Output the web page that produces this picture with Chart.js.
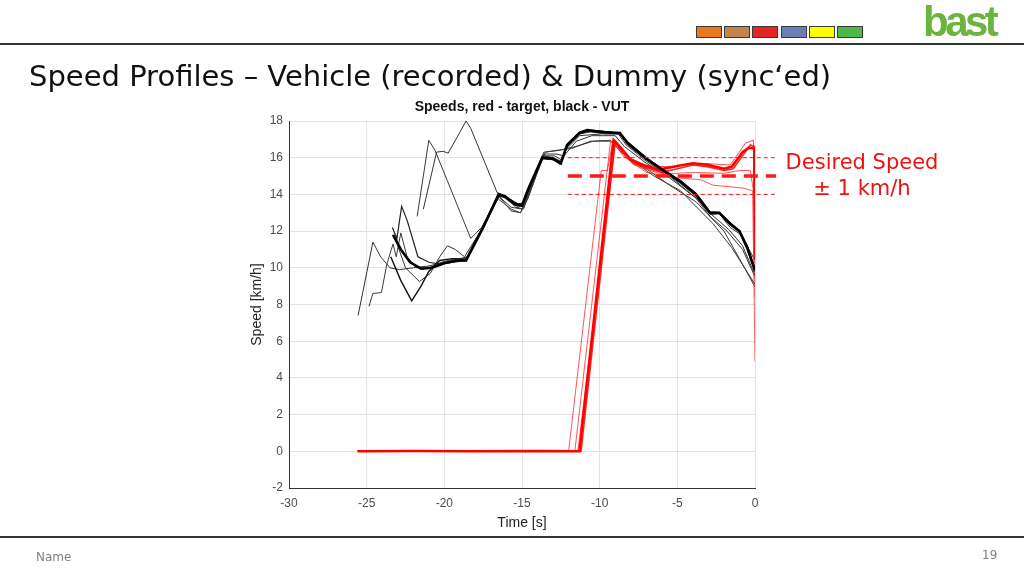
<!DOCTYPE html>
<html>
<head>
<meta charset="utf-8">
<script src="https://cdn.jsdelivr.net/npm/chart.js@4.4.1/dist/chart.umd.min.js"></script>
<style>
  body { margin: 0; background: #fff; }
  #slide { position: relative; width: 1024px; height: 576px; overflow: hidden; font-family: "DejaVu Sans", Verdana, sans-serif; }
  #myChart { position: absolute; left: 0; top: 0; }
  .abs { position: absolute; white-space: nowrap; }
  .rule { position: absolute; left: 0; width: 1024px; height: 2px; background: #333; }
  .box { position: absolute; top: 26px; width: 24px; height: 10px; border: 1px solid #3a3a3a; }
</style>
</head>
<body>
<div id="slide">
  <canvas id="myChart" width="1024" height="576"></canvas>
  <div class="rule" style="top:43px"></div>
  <div class="rule" style="top:536px"></div>
  <div class="box" style="left:696px;background:#e8771e"></div>
  <div class="box" style="left:724px;background:#c8834a"></div>
  <div class="box" style="left:752px;background:#e52525"></div>
  <div class="box" style="left:781px;background:#6a7fb5"></div>
  <div class="box" style="left:809px;background:#ffff00"></div>
  <div class="box" style="left:837px;background:#4cb847"></div>
  <div class="abs" style="left:923px;top:-2px;font:bold 42px 'Liberation Sans',Arial,sans-serif;letter-spacing:-3.5px;color:#6cb33f">bast</div>
  <div class="abs" style="left:29px;top:59px;font-size:29px;color:#111">Speed Profiles – Vehicle (recorded) &amp; Dummy (sync‘ed)</div>
  <div class="abs" style="left:782px;top:149px;width:160px;text-align:center;font-size:21px;line-height:26px;color:#ee1111">Desired Speed<br>± 1 km/h</div>
  <div class="abs" style="left:36px;top:550px;font-size:12px;color:#808080">Name</div>
  <div class="abs" style="left:982px;top:548px;font-size:12px;color:#808080">19</div>
</div>
<script>
// VUT speed traces, [time s, speed km/h]
var vut1 = [[-23.3,11.8],[-22.8,11.0],[-22.2,10.3],[-21.5,9.95],[-20.8,10.0],[-20.0,10.25],[-19.2,10.4],[-18.6,10.4],[-17.5,12.2],[-16.5,14.0],[-16.1,13.9],[-15.5,13.5],[-15.0,13.4],[-14.6,14.3],[-13.7,16.0],[-13.0,15.95],[-12.5,15.7],[-12.1,16.7],[-11.3,17.35],[-10.8,17.5],[-9.8,17.4],[-8.7,17.35],[-8.2,16.8],[-7.0,15.95],[-5.9,15.3],[-4.8,14.7],[-3.8,14.0],[-2.9,13.0],[-2.3,13.0],[-1.6,12.4],[-1.0,12.0],[-0.5,11.1],[0,9.85]];
var vut2 = [[-21.35,13.2],[-20.5,16.3],[-20.1,16.35],[-19.75,16.25],[-18.6,18.0],[-18.3,17.6],[-16.6,14.1],[-16.0,13.8],[-15.4,13.3],[-14.9,13.2],[-14.5,14.2],[-13.6,16.1],[-13.0,16.0],[-12.5,15.8],[-12.1,16.6],[-11.3,17.3],[-10.6,17.4],[-9.6,17.3],[-8.7,17.3],[-8.2,16.7],[-7.0,15.9],[-5.9,15.25],[-4.8,14.6],[-3.8,13.9],[-2.9,12.9],[-2.3,12.95],[-1.6,12.2],[-0.9,11.8],[0,10.4]];
var vut3 = [[-21.75,12.8],[-21.0,16.95],[-20.6,16.4],[-18.3,11.6],[-17.6,12.2],[-16.6,13.8],[-15.7,13.2],[-15.1,13.0],[-14.6,13.9],[-13.5,16.3],[-12.8,16.4],[-11.8,16.5],[-10.6,16.9],[-9.3,16.9],[-8.7,16.6],[-8.0,15.9],[-6.5,15.0],[-4.8,14.2],[-2.7,12.4],[-1.5,11.1],[0,9.1]];
var vut4 = [[-25.55,7.4],[-24.6,11.4],[-24.1,10.6],[-23.5,10.0],[-22.9,9.9],[-22.0,10.0],[-21.0,10.1],[-20.0,10.3],[-19.0,10.5],[-18.5,10.6],[-17.4,12.4],[-16.4,14.0],[-15.8,13.6],[-15.2,13.3],[-14.7,13.9],[-13.7,16.1],[-12.9,16.1],[-12.5,15.9],[-12.1,16.5],[-11.3,17.2],[-9.8,17.3],[-8.8,17.3],[-8.3,16.7],[-7.0,15.8],[-5.5,15.0],[-3.8,13.8],[-2.9,12.8],[-1.8,12.0],[-0.8,11.0],[0,9.5]];
var vut5 = [[-24.85,7.9],[-24.6,8.6],[-24.05,8.65],[-23.7,10.2],[-23.3,11.3],[-23.1,10.6],[-22.8,11.9],[-22.4,10.6],[-21.8,10.0],[-21.0,10.0],[-20.2,10.3],[-19.3,10.5],[-18.6,10.5],[-17.5,12.3],[-16.5,13.9],[-15.7,13.3],[-15.0,13.2],[-14.6,14.0],[-13.6,16.3],[-12.6,16.4],[-11.6,16.6],[-10.4,16.9],[-9.3,16.95],[-8.6,16.3],[-7.0,15.4],[-5.5,14.5],[-3.8,13.6],[-2.0,12.0],[-1.0,10.5],[0,8.95]];
var vut6 = [[-23.35,12.2],[-23.05,11.6],[-22.75,13.35],[-22.4,12.6],[-21.7,10.6],[-21.0,10.3],[-20.3,10.2],[-19.5,10.3],[-18.6,10.4],[-17.6,12.0],[-16.5,13.9],[-15.9,13.8],[-15.3,13.5],[-14.9,13.5],[-14.6,14.2],[-13.7,15.95],[-13.0,15.9],[-12.55,15.65],[-12.1,16.6],[-11.3,17.3],[-10.7,17.45],[-9.7,17.35],[-8.7,17.3],[-8.2,16.75],[-7.0,15.9],[-5.9,15.3],[-4.8,14.65],[-3.8,13.95],[-2.9,12.95],[-2.3,12.95],[-1.6,12.35],[-1.0,11.95],[-0.5,11.0],[0,9.8]];
var vut7 = [[-23.45,10.6],[-22.8,9.3],[-22.1,8.2],[-21.5,9.0],[-21.0,9.8],[-20.3,10.4],[-19.5,10.5],[-18.6,10.45],[-17.5,12.25],[-16.5,14.05],[-16.0,13.85],[-15.5,13.45],[-15.0,13.35],[-14.6,14.25],[-13.7,16.0],[-13.0,15.9],[-12.5,15.7],[-12.1,16.65],[-11.3,17.4],[-10.8,17.5],[-9.8,17.45],[-8.7,17.3],[-8.2,16.85],[-7.0,16.0],[-5.9,15.35],[-4.8,14.75],[-3.8,14.05],[-2.9,13.05],[-2.3,13.0],[-1.6,12.45],[-1.0,12.0],[-0.5,11.2],[0,9.9]];
var vut8 = [[-23.0,11.2],[-22.5,10.0],[-21.6,9.25],[-20.9,9.7],[-20.3,10.6],[-19.8,11.2],[-19.3,11.0],[-18.7,10.6],[-17.6,12.1],[-16.5,13.9],[-15.7,13.1],[-15.1,13.0],[-14.6,13.8],[-13.6,16.2],[-12.8,16.2],[-12.3,16.1],[-11.5,16.9],[-10.5,17.2],[-9.0,17.2],[-8.4,16.6],[-7.0,15.7],[-5.5,14.9],[-3.8,13.8],[-2.8,12.9],[-1.7,12.1],[-0.8,11.2],[0,9.6]];

// target (dummy) speed traces
var tgt1 = [[-25.6,0],[-22,0.02],[-18,0],[-14,0.01],[-11.3,0],[-9.1,16.95],[-8.7,16.6],[-8.0,15.9],[-7.2,15.6],[-6.2,15.35],[-5.0,15.55],[-4.0,15.7],[-3.0,15.6],[-2.0,15.4],[-1.5,15.5],[-0.8,16.3],[-0.4,16.55],[-0.05,16.5],[0,10.5]];
var tgt2 = [[-25.4,0],[-11.2,0],[-9.0,16.9],[-8.6,16.4],[-7.8,15.7],[-7.0,15.45],[-6.0,15.2],[-5.0,15.4],[-4.0,15.6],[-3.0,15.5],[-2.0,15.3],[-1.4,15.4],[-0.8,16.1],[-0.3,16.7],[0,16.6]];
var tgt3 = [[-25.5,0],[-12.0,0],[-9.9,15.3],[-9.5,15.3],[-9.15,16.9],[-8.5,16.1],[-7.5,15.5],[-7.0,15.2],[-5.0,14.9],[-3.5,14.8],[-2.7,14.5],[-0.8,14.35],[-0.15,14.2],[0,4.9]];
var tgt4 = [[-25.5,0],[-11.6,0],[-9.3,16.9],[-8.7,16.4],[-7.8,15.6],[-6.0,15.1],[-4.0,15.2],[-2.0,15.15],[-1.0,15.3],[-0.3,15.3],[0,13.6]];
var tgt5 = [[-25.5,0],[-11.4,0],[-9.0,16.8],[-8.3,16.0],[-7.5,15.6],[-5.5,15.5],[-3.5,15.7],[-1.6,15.6],[-0.6,16.8],[-0.1,16.95],[0,8.4]];

// desired speed band
var bandTime = [-12.05, 1.35];
var desiredSpeed = 15;
var bandLow = 14;
var bandHigh = 16;

var xTicks = [-30, -25, -20, -15, -10, -5, 0];
var yTicks = [-2, 0, 2, 4, 6, 8, 10, 12, 14, 16, 18];

function pts(arr) {
  return arr.map(function (p) { return { x: p[0], y: p[1] }; });
}
function line(arr, color, width, extra) {
  var ds = { data: pts(arr), borderColor: color, borderWidth: width, pointRadius: 0, tension: 0, fill: false };
  for (var k in extra) ds[k] = extra[k];
  return ds;
}

var datasets = [
  line([[bandTime[0], desiredSpeed], [bandTime[1], desiredSpeed]], '#ff1a1a', 3.5, { borderDash: [14, 8], clip: false }),
  line([[bandTime[0], bandHigh], [bandTime[1], bandHigh]], '#ff1a1a', 1, { borderDash: [4, 3], clip: false }),
  line([[bandTime[0], bandLow], [bandTime[1], bandLow]], '#ff1a1a', 1, { borderDash: [4, 3], clip: false }),
  line(vut1, '#000000', 2.6),
  line(vut7, '#111111', 1.4),
  line(vut6, '#222222', 1.2),
  line(tgt1, '#ff0000', 2.6),
  line(tgt2, 'rgba(255,0,0,0.85)', 1.6),
  line(tgt3, 'rgba(255,30,30,0.75)', 1),
  line(tgt4, 'rgba(255,30,30,0.75)', 1),
  line(tgt5, 'rgba(255,30,30,0.8)', 1),
  line(vut2, '#333333', 1),
  line(vut3, '#3a3a3a', 1),
  line(vut4, '#333333', 1),
  line(vut5, '#3a3a3a', 1),
  line(vut8, '#333333', 1)
];

var titlePlugin = {
  id: 'plotTitle',
  afterDraw: function (chart) {
    var c = chart.ctx, a = chart.chartArea;
    c.save();
    c.font = 'bold 14px "Liberation Sans", Arial, sans-serif';
    c.fillStyle = '#111';
    c.textAlign = 'center';
    c.textBaseline = 'middle';
    c.fillText('Speeds, red - target, black - VUT', (a.left + a.right) / 2, 107);
    c.restore();
  }
};

var tickFont = { family: '"Liberation Sans", Arial, sans-serif', size: 12 };

var ctx = document.getElementById("myChart").getContext('2d');
new Chart(ctx, {
  type: 'line',
  data: { datasets: datasets },
  plugins: [titlePlugin],
  options: {
    responsive: false,
    animation: false,
    layout: { padding: { left: 249, right: 269, top: 121, bottom: 44 } },
    plugins: { legend: { display: false }, title: { display: false }, tooltip: { enabled: false } },
    scales: {
      x: {
        type: 'linear', min: -30, max: 0,
        afterBuildTicks: function (s) { s.ticks = xTicks.map(function (v) { return { value: v }; }); },
        afterFit: function (s) { s.height = 44; },
        grid: { color: '#e3e3e3', drawTicks: false },
        border: { color: '#333333', width: 1 },
        ticks: { color: '#4d4d4d', font: tickFont, padding: 8 },
        title: { display: true, text: 'Time [s]', color: '#222', font: { family: '"Liberation Sans", Arial, sans-serif', size: 14 }, padding: { top: 2, bottom: 0 } }
      },
      y: {
        type: 'linear', min: -2, max: 18,
        afterBuildTicks: function (s) { s.ticks = yTicks.map(function (v) { return { value: v }; }); },
        afterFit: function (s) { s.width = 40; },
        grid: { color: '#e3e3e3', drawTicks: false },
        border: { color: '#333333', width: 1 },
        ticks: { color: '#4d4d4d', font: tickFont, padding: 6 },
        title: { display: true, text: 'Speed [km/h]', color: '#222', font: { family: '"Liberation Sans", Arial, sans-serif', size: 14 }, padding: { top: 0, bottom: 0 } }
      }
    }
  }
});
</script>
</body>
</html>
